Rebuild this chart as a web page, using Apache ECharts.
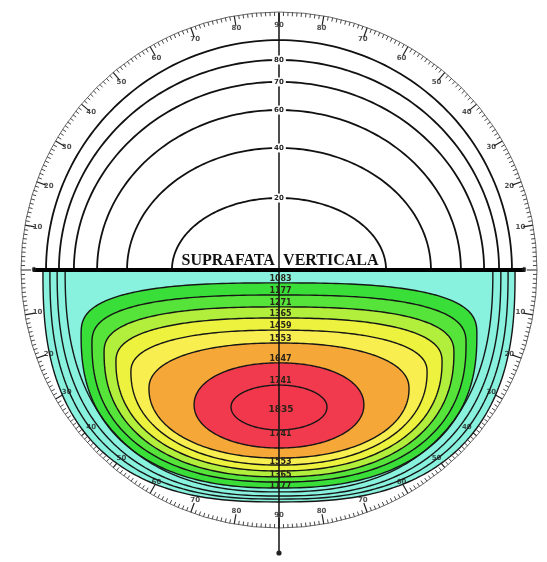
<!DOCTYPE html>
<html>
<head>
<meta charset="utf-8">
<script src="https://cdn.jsdelivr.net/npm/echarts@6/dist/echarts.min.js"></script>
<style>
  html, body { margin: 0; padding: 0; background: #ffffff; }
  #chart { width: 547px; height: 562px; }
</style>
</head>
<body>
<div id="chart"></div>
<script>
// Plan view of a vertical surface: irradiation isolines in front of the wall
// (lower half), reference arcs behind it (upper half) and an angular scale.
// All lengths are in units of the angular scale radius (= 100).

// Angular scale: angle clockwise from the top, and the printed value
const ringAngles = [0, 10, 20, 30, 40, 50, 60, 70, 80, 90, 100, 110, 120, 130, 140, 150, 160, 170,
                    180, 190, 200, 210, 220, 230, 240, 250, 260, 270, 280, 290, 300, 310, 320, 330, 340, 350];
const ringLabels = ['90', '80', '70', '60', '50', '40', '30', '20', '10', '0', '10', '20', '30', '40', '50', '60', '70', '80',
                    '90', '80', '70', '60', '50', '40', '30', '20', '10', '0', '10', '20', '30', '40', '50', '60', '70', '80'];

// Reference arcs behind the wall (outermost first)
const arcHalfWidth = [90.3, 85.3, 79.5, 70.5, 58.9, 41.5];
const arcHeight    = [89.1, 81.4, 72.9, 62.0, 47.3, 27.9];
const arcLabels    = ['', '80', '70', '60', '40', '20'];

// Irradiation isolines in front of the wall (outermost first), depths below the wall line
const isoLevels    = [707, 801, 895, 989, 1083, 1177, 1271, 1365, 1459, 1553, 1647, 1741];
const isoTop       = [0, 0, 0, 0, 5.0, 9.7, 14.3, 18.6, 23.3, 28.3, 36.0, 44.6];
const isoWidest    = [0, 0, 0, 0, 25.0, 28.5, 32.0, 35.5, 39.5, 46.0, 52.3, 53.1];
const isoBottom    = [89.9, 88.8, 87.6, 86.0, 84.5, 82.2, 80.2, 77.9, 75.6, 72.9, 69.0, 62.0];
const isoHalfWidth = [91.5, 88.8, 86.0, 82.9, 76.7, 72.5, 67.8, 63.2, 57.4, 50.4, 32.9, 18.6];
const isoBottomLabelled = [11, 9, 7, 5];

// Peak of the field
const peakDepth = 54.3;
const peakLabel = '1835';

// Band colours (fill inside each isoline)
const isoColors = ['#88f2de', '#88f2de', '#88f2de', '#88f2de', '#3ade38', '#56e43a', '#b2ee3c',
                   '#ecf23e', '#f8ee50', '#f5a838', '#f23a4e', '#f2364c'];

const WALL_WORDS = ['SUPRAFATA', 'VERTICALA'];

function isoOutline(i, api) {
  const a = isoHalfWidth[i], top = isoTop[i], mid = isoWidest[i], bot = isoBottom[i];
  const k = i / (isoLevels.length - 1);
  const nBot = 2.6 - 0.6 * k;
  const nTop = 3.2 - 1.2 * k;
  const N = 140;
  const pts = [];
  for (let j = 0; j <= N; j++) {
    const t = Math.PI * j / N;
    const c = Math.cos(t), s = Math.sin(t);
    const x = a * Math.sign(c) * Math.pow(Math.abs(c), 2 / nBot);
    const d = mid + (bot - mid) * Math.pow(Math.abs(s), 2 / nBot);
    pts.push(api.coord([x, -d]));
  }
  if (mid > top) {
    for (let j = 1; j < N; j++) {
      const t = Math.PI + Math.PI * j / N;
      const c = Math.cos(t), s = Math.sin(t);
      const x = a * Math.sign(c) * Math.pow(Math.abs(c), 2 / nTop);
      const d = mid - (mid - top) * Math.pow(Math.abs(s), 2 / nTop);
      pts.push(api.coord([x, -d]));
    }
  }
  return pts;
}

function textEl(p, text, font, fill, align, extra) {
  const al = align || 'center';
  return {
    type: 'text',
    x: p[0], y: p[1],
    style: Object.assign({
      text: text, font: font, fill: fill,
      align: al, verticalAlign: 'middle',
      textAlign: al, textVerticalAlign: 'middle'
    }, extra || {})
  };
}

// label entries: [isoline index, side] side 0 = upper crossing, 1 = lower crossing, 2 = peak
const isoLabelItems = [];
for (let i = 4; i < isoLevels.length; i++) isoLabelItems.push([i, 0]);
isoBottomLabelled.forEach(i => isoLabelItems.push([i, 1]));
isoLabelItems.push([-1, 2]);

const labelFont = 'bold 8px "DejaVu Sans"';

const chart = echarts.init(document.getElementById('chart'));
chart.setOption({
  animation: false,
  backgroundColor: '#ffffff',
  grid: { left: 0, right: 0, top: 0, bottom: 0 },
  xAxis: { type: 'value', min: -108.14, max: 103.88, show: false },
  yAxis: { type: 'value', min: -113.18, max: 104.65, show: false },
  polar: { center: [279, 270], radius: 258 },
  angleAxis: {
    type: 'value', min: 0, max: 360, interval: 10, startAngle: 90, clockwise: true,
    axisLine: { show: true, lineStyle: { color: '#444', width: 0.8 } },
    axisTick: { show: true, inside: true, length: 10, lineStyle: { color: '#222', width: 1.2 } },
    minorTick: { show: true, splitNumber: 10, length: 4, lineStyle: { color: '#333', width: 0.9 } },
    axisLabel: { show: false },
    splitLine: { show: false },
    splitArea: { show: false }
  },
  radiusAxis: {
    type: 'value', min: 0, max: 100,
    axisLine: { show: false }, axisTick: { show: false }, axisLabel: { show: false },
    splitLine: { show: false }, splitArea: { show: false }
  },
  series: [
    {
      // colour bands
      type: 'custom', coordinateSystem: 'cartesian2d', z: 1, silent: true,
      data: isoLevels.map((v, i) => [0, -isoBottom[i]]),
      renderItem: (params, api) => ({
        type: 'polygon',
        shape: { points: isoOutline(params.dataIndex, api) },
        style: { fill: isoColors[params.dataIndex], stroke: null }
      })
    },
    {
      // isolines
      type: 'custom', coordinateSystem: 'cartesian2d', z: 2, silent: true,
      data: isoLevels.map((v, i) => [0, -isoBottom[i]]),
      renderItem: (params, api) => {
        const i = params.dataIndex;
        const closed = isoWidest[i] > isoTop[i];
        return {
          type: closed ? 'polygon' : 'polyline',
          shape: { points: isoOutline(i, api) },
          style: { fill: null, stroke: '#161616', lineWidth: 1.4 }
        };
      }
    },
    {
      // reference arcs behind the wall
      type: 'custom', coordinateSystem: 'cartesian2d', z: 2, silent: true,
      data: arcHeight.map((h, i) => [0, h]),
      renderItem: (params, api) => {
        const i = params.dataIndex;
        const pts = [];
        const N = 120;
        for (let j = 0; j <= N; j++) {
          const t = Math.PI * j / N;
          pts.push(api.coord([arcHalfWidth[i] * Math.cos(t), arcHeight[i] * Math.sin(t)]));
        }
        return { type: 'polyline', shape: { points: pts }, style: { fill: null, stroke: '#111', lineWidth: 1.8 } };
      }
    },
    {
      // wall line, meridian line and wall title
      type: 'custom', coordinateSystem: 'cartesian2d', z: 3, silent: true,
      data: [[0, 0]],
      renderItem: (params, api) => {
        const top = api.coord([0, 99.6]);
        const bottom = api.coord([0, -109.7]);
        const wl = api.coord([-95.3, 0]);
        const wr = api.coord([95.3, 0]);
        const left = api.coord([-1.6, 3.6]);
        const right = api.coord([1.6, 3.6]);
        const font = 'bold 16px "Liberation Serif"';
        return {
          type: 'group',
          children: [
            { type: 'line', shape: { x1: top[0], y1: top[1], x2: bottom[0], y2: bottom[1] },
              style: { stroke: '#111', lineWidth: 1.5 } },
            { type: 'circle', shape: { cx: bottom[0], cy: bottom[1], r: 2.6 }, style: { fill: '#222' } },
            { type: 'line', shape: { x1: wl[0], y1: wl[1], x2: wr[0], y2: wr[1] },
              style: { stroke: '#000', lineWidth: 4 } },
            textEl(left, WALL_WORDS[0], font, '#111', 'right'),
            textEl(right, WALL_WORDS[1], font, '#111', 'left')
          ]
        };
      }
    },
    {
      // labels on the reference arcs
      type: 'custom', coordinateSystem: 'cartesian2d', z: 4, silent: true,
      data: arcHeight.map((h, i) => [0, h]),
      renderItem: (params, api) => {
        const i = params.dataIndex;
        if (!arcLabels[i]) return null;
        const p = api.coord([0, arcHeight[i]]);
        return textEl(p, arcLabels[i], 'bold 7px "DejaVu Sans"', '#222', 'center',
          { backgroundColor: '#ffffff', padding: [1, 2] });
      }
    },
    {
      // isoline values along the meridian
      type: 'custom', coordinateSystem: 'cartesian2d', z: 4, silent: true,
      data: isoLabelItems,
      renderItem: (params, api) => {
        const item = isoLabelItems[params.dataIndex];
        const i = item[0], side = item[1];
        let p, text;
        if (side === 0) { p = api.coord([0.6, -(isoTop[i] - 1.6)]); text = String(isoLevels[i]); }
        else if (side === 1) { p = api.coord([0.6, -(isoBottom[i] + 1.6)]); text = String(isoLevels[i]); }
        else { p = api.coord([0.8, -peakDepth]); text = peakLabel; }
        return textEl(p, text, side === 2 ? 'bold 9px "DejaVu Sans"' : labelFont, '#2a2418');
      }
    },
    {
      // angular scale values
      type: 'scatter', coordinateSystem: 'polar', z: 5, silent: true,
      symbolSize: 1, itemStyle: { color: 'rgba(0,0,0,0)' },
      data: ringAngles.map(a => [95, a]),
      label: {
        show: true, position: 'inside',
        formatter: p => ringLabels[p.dataIndex],
        color: '#222', fontSize: 7, fontWeight: 'bold', fontFamily: 'DejaVu Sans'
      }
    }
  ]
});
</script>
</body>
</html>
